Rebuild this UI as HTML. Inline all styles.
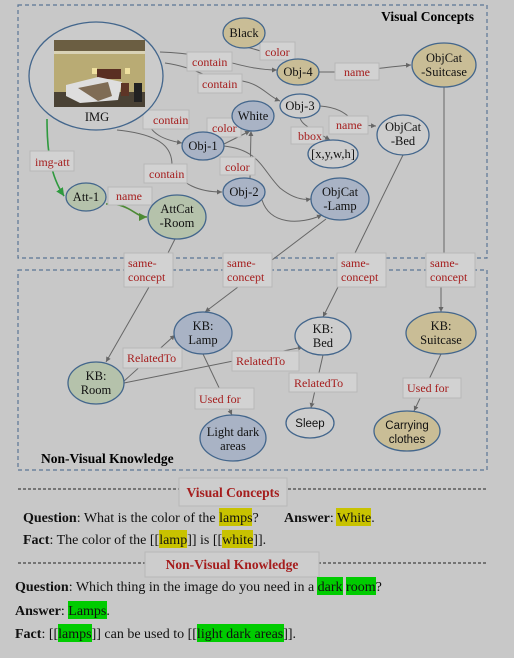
<!DOCTYPE html>
<html><head><meta charset="utf-8"><style>
html,body{margin:0;padding:0;background:#c8c8c8;}
svg{display:block;}
.s{font-family:"Liberation Serif",serif;}
.r{fill:#a51d1d;font-family:"Liberation Serif",serif;font-size:12px;}
.n{font-family:"Liberation Serif",serif;font-size:12.5px;fill:#111;text-anchor:middle;}
.ns{font-family:"Liberation Sans",sans-serif;font-size:11.5px;fill:#111;text-anchor:middle;}
.lb{fill:#d2d2d2;stroke:#b8b8b8;stroke-width:1;}
.e{stroke:#43668c;stroke-width:1.3;}
.l{stroke:#666;stroke-width:1;fill:none;marker-end:url(#a);}
.t{font-family:"Liberation Serif",serif;font-size:14px;fill:#111;}
</style></head><body>
<svg width="514" height="658" viewBox="0 0 514 658" xmlns="http://www.w3.org/2000/svg">
<defs>
<marker id="a" markerWidth="6" markerHeight="6" refX="5" refY="3" orient="auto"><path d="M0,0.5 L5,3 L0,5.5z" fill="#666"/></marker>
<marker id="g" markerWidth="6" markerHeight="6" refX="5" refY="3" orient="auto"><path d="M0,0.5 L5,3 L0,5.5z" fill="#2e9a3e"/></marker>
<marker id="g2" markerWidth="6" markerHeight="6" refX="5" refY="3" orient="auto"><path d="M0,0.5 L5,3 L0,5.5z" fill="#4d8a35"/></marker>
</defs>
<rect width="514" height="658" fill="#c8c8c8"/>
<!-- boxes -->
<rect x="18" y="5" width="469" height="253" fill="none" stroke="#5a7595" stroke-width="1.2" stroke-dasharray="4,3"/>
<rect x="18" y="270" width="469" height="200" fill="none" stroke="#5a7595" stroke-width="1.2" stroke-dasharray="4,3"/>
<text x="474" y="21" text-anchor="end" class="s" font-weight="bold" font-size="13.5">Visual Concepts</text>
<text x="41" y="463" class="s" font-weight="bold" font-size="13.5">Non-Visual Knowledge</text>

<!-- edges top -->
<path class="l" d="M160,52 C220,54 240,70 277,70"/>
<path class="l" d="M165,63 C200,68 205,80 230,80 C260,80 265,95 280,101"/>
<path class="l" d="M319,72 L343,72 C370,70 395,66 411,65"/>
<path d="M246,47 C260,50 270,55 290,60" fill="none" stroke="#666"/>
<path class="l" d="M145,116 C150,135 165,140 182,143"/>
<path class="l" d="M117,130 C165,135 172,150 172,165 C180,185 200,192 222,192"/>
<path class="l" d="M224,144 L250,131"/>
<path class="l" d="M250,178 L251,131"/>
<path class="l" d="M224,146 C260,150 262,170 280,188 C295,200 305,200 311,199"/>
<path class="l" d="M262,200 C270,225 300,225 322,215"/>
<path class="l" d="M300,118 C302,125 310,128 330,140"/>
<path class="l" d="M320,106 C345,108 348,118 360,125 L376,126"/>
<path class="l" d="M47,119 C47,150 50,175 64,196"/>
<path d="M47,119 C47,150 50,175 64,196" fill="none" stroke="#2e9a3e" stroke-width="1.6" marker-end="url(#g)"/>
<path d="M106,204 C130,203 135,217 147,217" fill="none" stroke="#4d8a35" stroke-width="1.6" marker-end="url(#g2)"/>
<!-- edges crossing -->
<path d="M175,239 L168,253" stroke="#666" fill="none"/>
<path d="M326,219 L272,260" stroke="#666" fill="none"/>
<path d="M403,155 L355,253" stroke="#666" fill="none"/>
<path d="M444,87 L444,253" stroke="#666" fill="none"/>
<path class="l" d="M149,287 L106,362"/>
<path class="l" d="M238,287 L205,312"/>
<path class="l" d="M338,287 L323,317"/>
<path class="l" d="M441,287 L441,312"/>
<path class="l" d="M123,382 L175,335"/>
<path class="l" d="M124,383 L303,347"/>
<path class="l" d="M203,354 L232,415"/>
<path class="l" d="M323,355 L311,408"/>
<path class="l" d="M441,354 L414,411"/>

<!-- label boxes -->
<g>
<rect class="lb" x="260" y="42" width="35" height="18"/><text class="r" x="265" y="56">color</text>
<rect class="lb" x="187" y="52" width="45" height="19"/><text class="r" x="192" y="66">contain</text>
<rect class="lb" x="335" y="63" width="44" height="17"/><text class="r" x="344" y="76">name</text>
<rect class="lb" x="198" y="74" width="44" height="19"/><text class="r" x="202" y="88">contain</text>
<rect class="lb" x="143" y="110" width="46" height="19"/><text class="r" x="153" y="124">contain</text>
<rect class="lb" x="207" y="118" width="34" height="19"/><text class="r" x="212" y="132">color</text>
<rect class="lb" x="329" y="116" width="39" height="18"/><text class="r" x="336" y="129">name</text>
<rect class="lb" x="291" y="127" width="32" height="17"/><text class="r" x="298" y="140">bbox</text>
<rect class="lb" x="30" y="151" width="44" height="20"/><text class="r" x="35" y="166">img-att</text>
<rect class="lb" x="144" y="164" width="43" height="19"/><text class="r" x="149" y="178">contain</text>
<rect class="lb" x="220" y="157" width="35" height="18"/><text class="r" x="225" y="171">color</text>
<rect class="lb" x="108" y="187" width="44" height="18"/><text class="r" x="116" y="200">name</text>
</g>
<g>
<rect class="lb" x="124" y="253" width="49" height="34"/><text class="r" x="128" y="267">same-</text><text class="r" x="128" y="281">concept</text>
<rect class="lb" x="223" y="253" width="49" height="34"/><text class="r" x="227" y="267">same-</text><text class="r" x="227" y="281">concept</text>
<rect class="lb" x="337" y="253" width="49" height="34"/><text class="r" x="341" y="267">same-</text><text class="r" x="341" y="281">concept</text>
<rect class="lb" x="426" y="253" width="49" height="34"/><text class="r" x="430" y="267">same-</text><text class="r" x="430" y="281">concept</text>
<rect class="lb" x="123" y="348" width="59" height="20"/><text class="r" x="127" y="362">RelatedTo</text>
<rect class="lb" x="232" y="351" width="67" height="20"/><text class="r" x="236" y="365">RelatedTo</text>
<rect class="lb" x="289" y="373" width="68" height="19"/><text class="r" x="294" y="387">RelatedTo</text>
<rect class="lb" x="195" y="388" width="59" height="21"/><text class="r" x="199" y="403">Used for</text>
<rect class="lb" x="403" y="378" width="58" height="20"/><text class="r" x="407" y="392">Used for</text>
</g>

<!-- IMG -->
<ellipse cx="96" cy="76" rx="67" ry="54" fill="#cbcbcb" class="e"/>
<rect x="54" y="40" width="91" height="67" fill="#b9ab74"/>
<rect x="54" y="40" width="91" height="11" fill="#6b5e42"/>
<rect x="54" y="51" width="91" height="3" fill="#d9d2b5"/>
<rect x="54" y="92" width="91" height="15" fill="#4a4235"/>
<rect x="97" y="69" width="24" height="10" fill="#5a2f22"/>
<polygon points="66,85 98,77 122,82 118,100 80,103 66,96" fill="#dedede"/>
<polygon points="78,88 108,82 112,96 98,101" fill="#7f6c55"/>
<rect x="121" y="83" width="8" height="13" fill="#5e3526"/>
<rect x="134" y="83" width="8" height="19" fill="#222"/>
<rect x="92" y="68" width="5" height="6" fill="#f0e1a0"/>
<rect x="125" y="68" width="5" height="6" fill="#f0e1a0"/>
<text class="n" x="97" y="121" font-size="13">IMG</text>

<!-- nodes top -->
<ellipse cx="244" cy="33" rx="21" ry="15" fill="#c9bd96" class="e"/><text class="n" x="244" y="37">Black</text>
<ellipse cx="298" cy="72" rx="21" ry="13" fill="#c9bd96" class="e"/><text class="n" x="298" y="76">Obj-4</text>
<ellipse cx="444" cy="65" rx="32" ry="22" fill="#c9bd96" class="e"/><text class="n" x="444" y="62">ObjCat</text><text class="n" x="444" y="76">-Suitcase</text>
<ellipse cx="300" cy="106" rx="20" ry="12" fill="#cdcdcd" class="e"/><text class="n" x="300" y="110">Obj-3</text>
<ellipse cx="253" cy="116" rx="21" ry="15" fill="#a9b3c5" class="e"/><text class="n" x="253" y="120">White</text>
<ellipse cx="403" cy="135" rx="26" ry="20" fill="#cdcdcd" class="e"/><text class="n" x="403" y="131">ObjCat</text><text class="n" x="403" y="145">-Bed</text>
<ellipse cx="333" cy="154" rx="25" ry="14" fill="#cdcdcd" class="e"/><text class="n" x="333" y="158">[x,y,w,h]</text>
<ellipse cx="203" cy="146" rx="21" ry="14" fill="#a9b3c5" class="e"/><text class="n" x="203" y="150">Obj-1</text>
<ellipse cx="244" cy="192" rx="21" ry="14" fill="#a9b3c5" class="e"/><text class="n" x="244" y="196">Obj-2</text>
<ellipse cx="340" cy="199" rx="29" ry="21" fill="#a9b3c5" class="e"/><text class="n" x="340" y="196">ObjCat</text><text class="n" x="340" y="210">-Lamp</text>
<ellipse cx="86" cy="197" rx="20" ry="14" fill="#b5c2ab" class="e"/><text class="n" x="86" y="201">Att-1</text>
<ellipse cx="177" cy="217" rx="29" ry="22" fill="#b5c2ab" class="e"/><text class="n" x="177" y="213">AttCat</text><text class="n" x="177" y="227">-Room</text>

<!-- nodes bottom -->
<ellipse cx="203" cy="333" rx="29" ry="21" fill="#a9b3c5" class="e"/><text class="n" x="203" y="330">KB:</text><text class="n" x="203" y="344">Lamp</text>
<ellipse cx="323" cy="336" rx="28" ry="19" fill="#cdcdcd" class="e"/><text class="n" x="323" y="333">KB:</text><text class="n" x="323" y="347">Bed</text>
<ellipse cx="441" cy="333" rx="35" ry="21" fill="#c9bd96" class="e"/><text class="n" x="441" y="330">KB:</text><text class="n" x="441" y="344">Suitcase</text>
<ellipse cx="96" cy="383" rx="28" ry="21" fill="#b5c2ab" class="e"/><text class="n" x="96" y="380">KB:</text><text class="n" x="96" y="394">Room</text>
<ellipse cx="233" cy="438" rx="33" ry="23" fill="#a9b3c5" class="e"/><text class="n" x="233" y="436">Light dark</text><text class="n" x="233" y="450">areas</text>
<ellipse cx="310" cy="423" rx="24" ry="15" fill="#cdcdcd" class="e"/><text class="ns" x="310" y="427">Sleep</text>
<ellipse cx="407" cy="431" rx="33" ry="20" fill="#c9bd96" class="e"/><text class="ns" x="407" y="429">Carrying</text><text class="ns" x="407" y="443">clothes</text>

<!-- bottom text -->
<line x1="18" y1="489" x2="486" y2="489" stroke="#222" stroke-dasharray="3,2"/>
<rect x="179" y="478" width="108" height="28" fill="#cdcdcd" stroke="#b8b8b8"/>
<text x="233" y="497" text-anchor="middle" class="s" font-weight="bold" font-size="13.5" fill="#a51d1d">Visual Concepts</text>
<rect x="219" y="508" width="33" height="18" fill="#c8c200"/>
<rect x="336" y="508" width="35" height="18" fill="#c8c200"/>
<rect x="159" y="530" width="28" height="18" fill="#c8c200"/>
<rect x="222" y="530" width="31" height="18" fill="#c8c200"/>
<text class="t" x="23" y="522"><tspan font-weight="bold">Question</tspan>: What is the color of the lamps?</text>
<text class="t" x="284" y="522"><tspan font-weight="bold">Answer</tspan>: White.</text>
<text class="t" x="23" y="544"><tspan font-weight="bold">Fact</tspan>: The color of the [[lamp]] is [[white]].</text>
<line x1="18" y1="563" x2="486" y2="563" stroke="#222" stroke-dasharray="3,2"/>
<rect x="145" y="552" width="174" height="25" fill="#cdcdcd" stroke="#b8b8b8"/>
<text x="232" y="569" text-anchor="middle" class="s" font-weight="bold" font-size="13.5" fill="#a51d1d">Non-Visual Knowledge</text>
<rect x="317" y="577" width="26" height="18" fill="#00cc00"/>
<rect x="346" y="577" width="30" height="18" fill="#00cc00"/>
<rect x="68" y="601" width="39" height="18" fill="#00cc00"/>
<rect x="58" y="624" width="34" height="18" fill="#00cc00"/>
<rect x="197" y="624" width="87" height="18" fill="#00cc00"/>
<text class="t" x="15" y="591"><tspan font-weight="bold">Question</tspan>: Which thing in the image do you need in a dark room?</text>
<text class="t" x="15" y="615"><tspan font-weight="bold">Answer</tspan>: Lamps.</text>
<text class="t" x="15" y="638"><tspan font-weight="bold">Fact</tspan>: [[lamps]] can be used to [[light dark areas]].</text>
</svg>
</body></html>
